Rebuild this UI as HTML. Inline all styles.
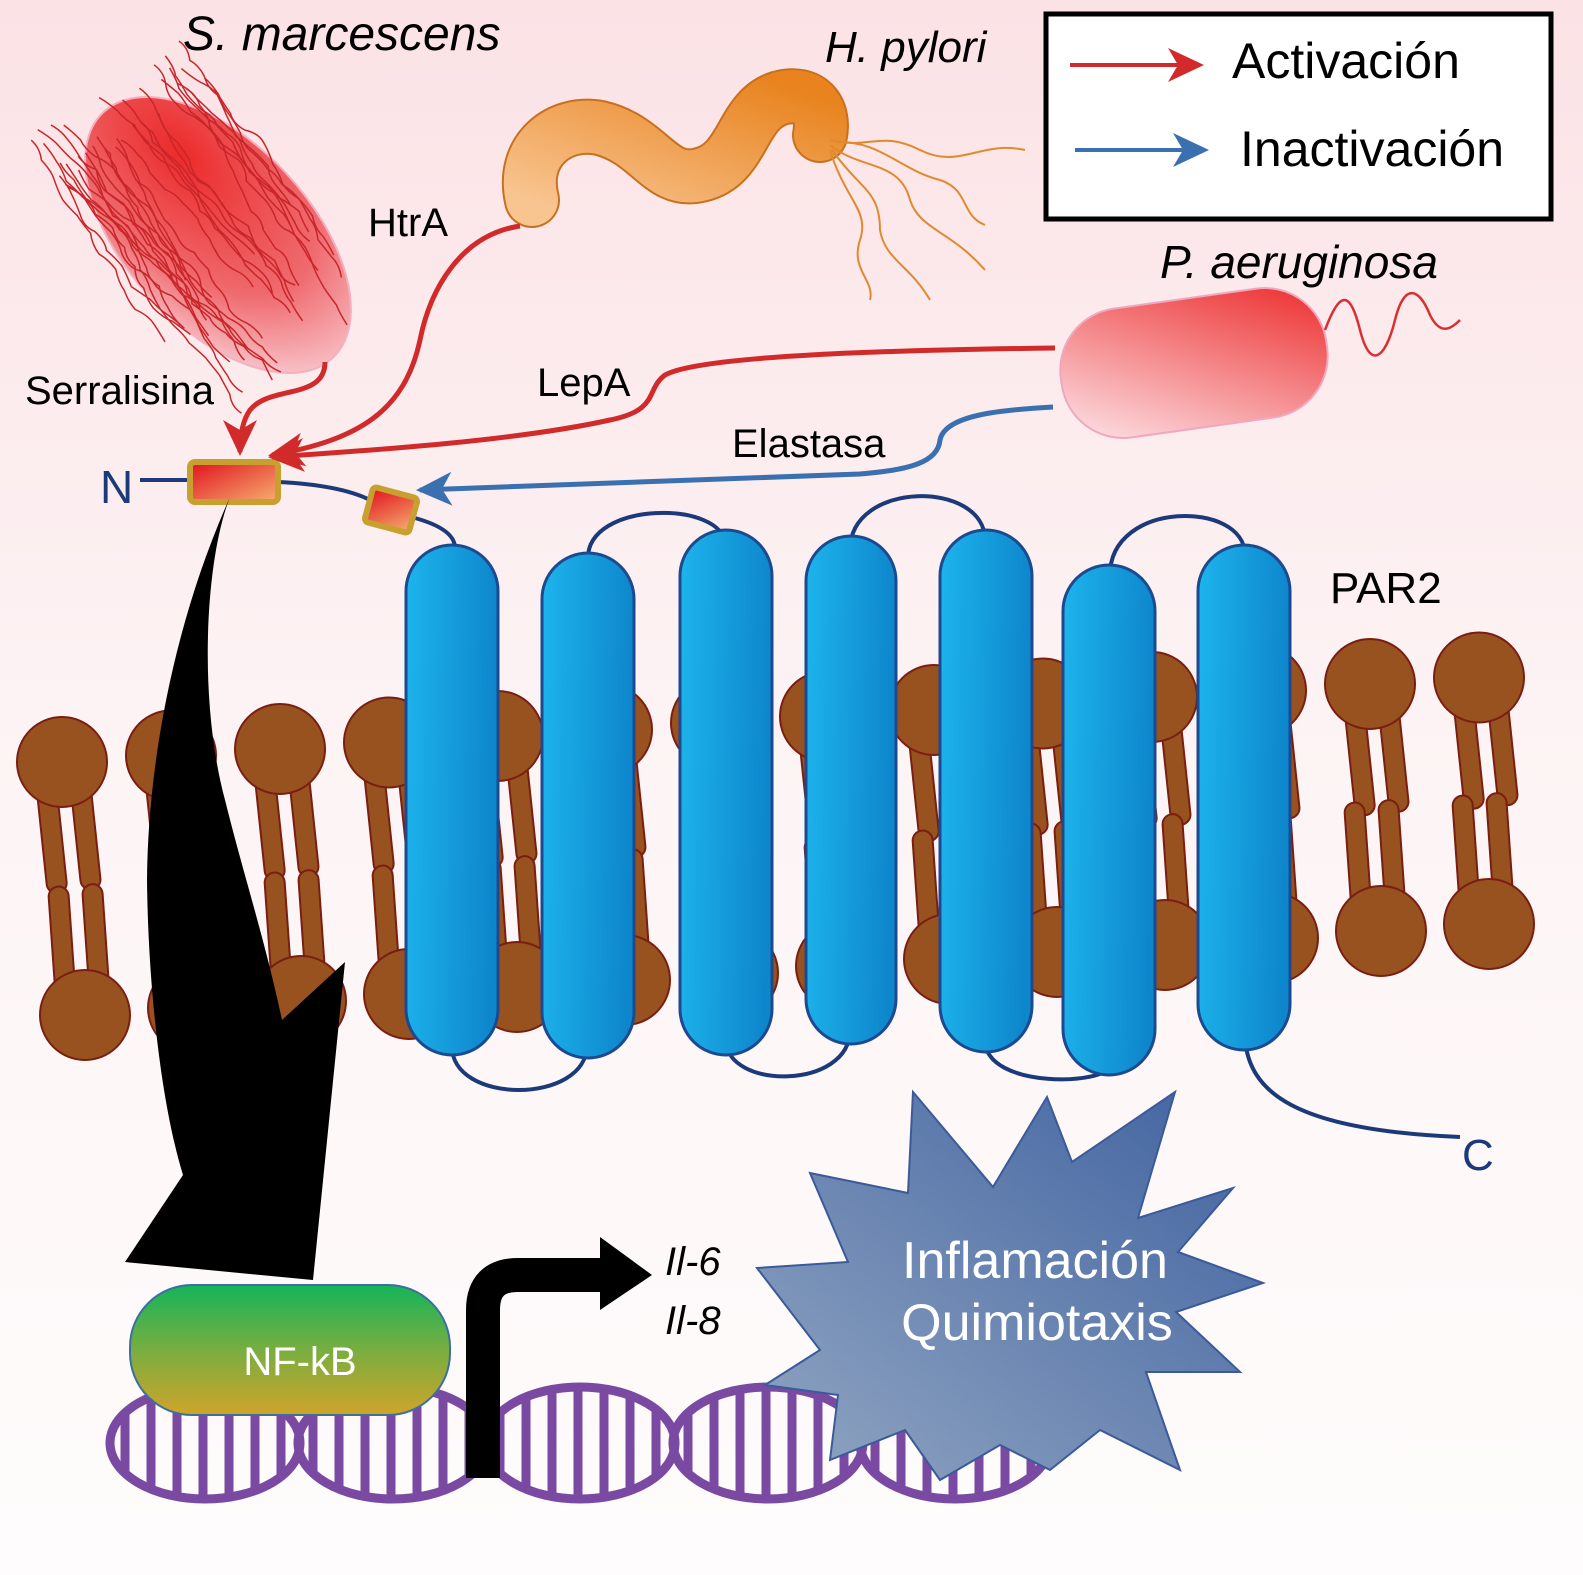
<!DOCTYPE html>
<html><head><meta charset="utf-8"><style>
html,body{margin:0;padding:0;background:#fff}
svg{display:block}
text{font-family:"Liberation Sans",Arial,sans-serif}
</style></head><body>
<svg id="s" width="1583" height="1575" viewBox="0 0 1583 1575" xmlns="http://www.w3.org/2000/svg">
<defs>
<linearGradient id="bg" x1="0" y1="0" x2="0" y2="1">
<stop offset="0" stop-color="#fbe2e5"/><stop offset="0.45" stop-color="#fdf3f4"/><stop offset="1" stop-color="#fefcfc"/></linearGradient>
<linearGradient id="helix" x1="0" y1="0" x2="1" y2="0.1">
<stop offset="0" stop-color="#1db4ec"/><stop offset="1" stop-color="#0e86cc"/></linearGradient>
<radialGradient id="serr" cx="0.25" cy="0.35" r="0.85">
<stop offset="0" stop-color="#ec2a2a"/><stop offset="0.6" stop-color="#ef6a6e"/><stop offset="1" stop-color="#f9d2d8"/></radialGradient>
<linearGradient id="hp" x1="0" y1="1" x2="1" y2="0">
<stop offset="0" stop-color="#f8c490"/><stop offset="1" stop-color="#e8831e"/></linearGradient>
<linearGradient id="pa" x1="1" y1="0" x2="0" y2="1">
<stop offset="0" stop-color="#ec2a2a"/><stop offset="1" stop-color="#fde7ec"/></linearGradient>
<linearGradient id="cleave" x1="0" y1="0" x2="1" y2="1">
<stop offset="0" stop-color="#e0101e"/><stop offset="1" stop-color="#f6b070"/></linearGradient>
<linearGradient id="nf" x1="0" y1="0" x2="0" y2="1">
<stop offset="0" stop-color="#14b45a"/><stop offset="0.5" stop-color="#78ae40"/><stop offset="1" stop-color="#d0a42a"/></linearGradient>
<linearGradient id="star" x1="1" y1="0" x2="0" y2="1">
<stop offset="0" stop-color="#3f62a0"/><stop offset="1" stop-color="#92a6c2"/></linearGradient>
<marker id="ar" markerUnits="userSpaceOnUse" markerWidth="60" markerHeight="60" refX="0" refY="0" orient="auto" style="overflow:visible">
<path d="M4,0 L-32,-17 L-22,0 L-32,17 Z" fill="#d12a2a"/></marker>
<marker id="ab" markerUnits="userSpaceOnUse" markerWidth="60" markerHeight="60" refX="0" refY="0" orient="auto" style="overflow:visible">
<path d="M4,0 L-32,-17 L-22,0 L-32,17 Z" fill="#3a6fb0"/></marker>
</defs>
<rect width="1583" height="1575" fill="url(#bg)"/>
<g id="lip"></g>
<g id="prot">
<g fill="none" stroke="#1c3a7a" stroke-width="4">
<path d="M588,560 C585,500 725,500 725,545"/>
<path d="M850,550 C850,480 985,480 985,540"/>
<path d="M1110,575 C1110,500 1245,500 1245,555"/>
<path d="M452,1045 C450,1105 587,1105 587,1045"/>
<path d="M726,1040 C726,1090 850,1090 850,1030"/>
<path d="M985,1040 C985,1090 1110,1085 1110,1065"/>
<path d="M1245,1040 C1250,1090 1290,1130 1460,1137"/>
<path d="M140,480 L190,480 M278,482 C320,484 350,490 370,500 M415,518 C440,525 455,535 455,548"/>
</g>
<g fill="url(#helix)" stroke="#1c4a90" stroke-width="3">
<rect x="406" y="545" width="92" height="510" rx="46"/>
<rect x="542" y="553" width="92" height="505" rx="46"/>
<rect x="680" y="530" width="92" height="525" rx="46"/>
<rect x="806" y="536" width="90" height="508" rx="45"/>
<rect x="940" y="530" width="92" height="522" rx="46"/>
<rect x="1063" y="565" width="92" height="510" rx="46"/>
<rect x="1198" y="545" width="92" height="505" rx="46"/>
</g>
</g>
<rect x="190" y="462" width="88" height="40" rx="5" fill="url(#cleave)" stroke="#c8a030" stroke-width="6"/>
<rect x="368" y="492" width="46" height="36" rx="4" fill="url(#cleave)" stroke="#c8a030" stroke-width="6" transform="rotate(15 391 510)"/>
<path d="M230,497 C205,560 198,700 225,800 C245,880 265,940 282,1020 L345,962 L313,1280 L125,1262 L183,1175 C160,1100 148,980 147,880 C148,760 175,620 230,497 Z" fill="#000"/>
<ellipse cx="218" cy="235" rx="168" ry="92" transform="rotate(47 218 235)" fill="url(#serr)" stroke="#f3b0c0" stroke-width="2"/>
<g id="hairs" fill="none" stroke="#c8262a" stroke-width="1.5"></g>
<path d="M532,200 C520,150 560,120 600,128 C650,140 660,185 700,175 C745,165 740,110 780,98 C810,90 825,110 820,135" fill="none" stroke="#c8701e" stroke-width="56" stroke-linecap="round"/>
<path d="M532,200 C520,150 560,120 600,128 C650,140 660,185 700,175 C745,165 740,110 780,98 C810,90 825,110 820,135" fill="none" stroke="url(#hp)" stroke-width="52" stroke-linecap="round"/>
<g fill="none" stroke="#e08a30" stroke-width="2">
<path d="M830,140 C870,150 880,130 920,150 C960,170 980,140 1025,150"/>
<path d="M830,145 C860,170 900,160 910,200 C920,230 950,230 985,270"/>
<path d="M832,150 C860,190 880,190 880,230 C885,260 910,265 930,300"/>
<path d="M830,150 C845,200 870,210 860,240 C850,270 875,280 870,300"/>
<path d="M835,142 C880,140 900,170 940,180 C970,190 960,215 985,225"/>
</g>
<rect x="1060" y="298" width="268" height="130" rx="62" transform="rotate(-8 1194 363)" fill="url(#pa)" stroke="#f0a8c0" stroke-width="2"/>
<path d="M1325,330 C1340,290 1350,290 1360,330 C1370,370 1385,360 1395,320 C1405,280 1420,290 1430,315 C1440,335 1450,330 1460,320" fill="none" stroke="#d83030" stroke-width="2.5"/>
<g fill="none" stroke-width="5">
<path d="M325,362 C325,400 270,385 250,410 C243,420 240,435 240,452" stroke="#d12a2a" marker-end="url(#ar)"/>
<path d="M520,226 C460,235 430,290 420,340 C405,410 360,440 272,455" stroke="#d12a2a" marker-end="url(#ar)"/>
<path d="M1055,348 C900,350 700,355 665,375 C645,390 660,410 610,420 C520,440 380,450 272,457" stroke="#d12a2a" marker-end="url(#ar)"/>
<path d="M1053,407 C1000,410 945,415 940,440 C938,462 910,470 860,474 C700,480 550,485 420,490" stroke="#3a6fb0" marker-end="url(#ab)"/>
</g>
<rect x="1046" y="14" width="505" height="205" fill="#fff" stroke="#000" stroke-width="5"/>
<path d="M1070,65 L1200,65" stroke="#d12a2a" stroke-width="4" marker-end="url(#ar)"/>
<path d="M1075,150 L1205,150" stroke="#3a6fb0" stroke-width="4" marker-end="url(#ab)"/>
<text x="1232" y="78" font-size="50">Activación</text>
<text x="1240" y="166" font-size="50">Inactivación</text>
<g id="dna" fill="none" stroke="#7a4aa2" stroke-width="9"></g>
<rect x="130" y="1285" width="320" height="130" rx="62" fill="url(#nf)" stroke="#3a6fa0" stroke-width="2"/>
<text x="300" y="1375" font-size="40" fill="#fff" text-anchor="middle">NF-kB</text>
<path d="M483,1478 L483,1310 Q483,1275 518,1275 L605,1275" fill="none" stroke="#000" stroke-width="34"/>
<path d="M600,1237 L652,1275 L600,1310 Z" fill="#000"/>
<polygon points="810,1173 908,1193 913,1092 993,1187 1047,1097 1072,1162 1175,1092 1138,1218 1233,1188 1178,1252 1263,1283 1176,1312 1240,1372 1146,1372 1180,1470 1100,1430 1050,1470 1000,1445 940,1480 905,1430 830,1460 838,1395 765,1385 820,1350 757,1268 848,1262" fill="url(#star)" stroke="#3a5a9a" stroke-width="2"/>
<text x="1035" y="1278" font-size="52" fill="#fff" text-anchor="middle">Inflamación</text>
<text x="1037" y="1340" font-size="52" fill="#fff" text-anchor="middle">Quimiotaxis</text>
<text x="183" y="50" font-size="48" font-style="italic">S. marcescens</text>
<text x="825" y="62" font-size="44" font-style="italic">H. pylori</text>
<text x="1160" y="278" font-size="46" font-style="italic">P. aeruginosa</text>
<text x="368" y="236" font-size="40">HtrA</text>
<text x="25" y="404" font-size="40">Serralisina</text>
<text x="537" y="396" font-size="40">LepA</text>
<text x="732" y="457" font-size="40">Elastasa</text>
<text x="100" y="503" font-size="46" fill="#1c3a7a">N</text>
<text x="1330" y="603" font-size="44">PAR2</text>
<text x="1462" y="1170" font-size="44" fill="#1c3a7a">C</text>
<text x="665" y="1275" font-size="40" font-style="italic">Il-6</text>
<text x="665" y="1334" font-size="40" font-style="italic">Il-8</text>
</svg>
<script>
var NS="http://www.w3.org/2000/svg";
function el(p,t,a){var e=document.createElementNS(NS,t);for(var k in a)e.setAttribute(k,a[k]);p.appendChild(e);return e;}
var lip=document.getElementById('lip');
var F="#97521f",S="#7a1e12";
for(var i=0;i<14;i++){
  var x=62+i*109, y=762-i*6.5;
  var bx=85+i*108, by=1015-i*7;
  var g=el(lip,'g',{});
  el(g,'rect',{x:x-28,y:y+20,width:20,height:110,rx:10,fill:F,stroke:S,'stroke-width':2,transform:'rotate(-6 '+x+' '+y+')'});
  el(g,'rect',{x:x+6,y:y+20,width:20,height:110,rx:10,fill:F,stroke:S,'stroke-width':2,transform:'rotate(-6 '+x+' '+y+')'});
  el(g,'circle',{cx:x,cy:y,r:45,fill:F,stroke:S,'stroke-width':2});
  var g2=el(lip,'g',{});
  el(g2,'rect',{x:bx-28,y:by-130,width:20,height:110,rx:10,fill:F,stroke:S,'stroke-width':2,transform:'rotate(-4 '+bx+' '+by+')'});
  el(g2,'rect',{x:bx+6,y:by-130,width:20,height:110,rx:10,fill:F,stroke:S,'stroke-width':2,transform:'rotate(-4 '+bx+' '+by+')'});
  el(g2,'circle',{cx:bx,cy:by,r:45,fill:F,stroke:S,'stroke-width':2});
}
var h=document.getElementById('hairs');
var seed=11;function r(){seed=(seed*9301+49297)%233280;return seed/233280;}
var ux=0.62,uy=0.78,vx=0.78,vy=-0.62,cx0=215,cy0=230;
for(var j=0;j<34;j++){
  var off=(r()-0.5)*190, st=-190+r()*70, L=200+r()*110;
  var px=cx0+ux*st+vx*off, py=cy0+uy*st+vy*off;
  var d="M"+px.toFixed(1)+","+py.toFixed(1);
  var n=Math.floor(L/22);
  for(var k=0;k<n;k++){
    var w=(r()-0.5)*14;
    var nx=px+ux*22+vx*w, ny=py+uy*22+vy*w;
    var qx=(px+nx)/2+vx*(r()-0.5)*12, qy=(py+ny)/2+vy*(r()-0.5)*12;
    d+=" Q"+qx.toFixed(1)+","+qy.toFixed(1)+" "+nx.toFixed(1)+","+ny.toFixed(1);
    px=nx;py=ny;
  }
  el(h,'path',{d:d});
}
var dna=document.getElementById('dna');
[205,393,580,768,955].forEach(function(c){
  for(var x=c-80;x<=c+80;x+=26){var dy=55*Math.sqrt(Math.max(0,1-Math.pow((x-c)/95,2)));el(dna,'line',{x1:x,y1:1443-dy,x2:x,y2:1443+dy});}
  el(dna,'ellipse',{cx:c,cy:1443,rx:95,ry:56});
});
</script>
</body></html>
